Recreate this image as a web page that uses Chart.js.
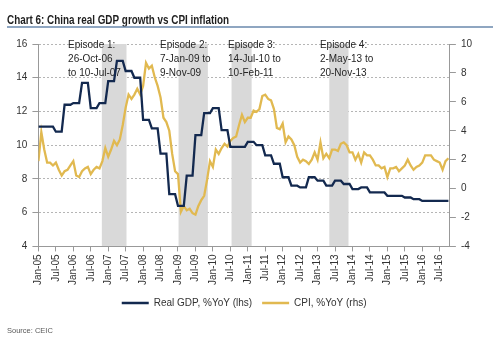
<!DOCTYPE html>
<html>
<head>
<meta charset="utf-8">
<script src="https://cdn.jsdelivr.net/npm/chart.js@4.4.0/dist/chart.umd.min.js"></script>
<style>
html, body { margin: 0; padding: 0; background: #fff; }
#wrap { width: 500px; height: 353px; position: relative; }
</style>
</head>
<body>
<div id="wrap"><canvas id="myChart"></canvas></div>
<script>
// one value per month, Jan-05 .. Oct-16
let gdp = [
  11.1, 11.1, 11.1, 11.1, 11.1, 11.1, 10.8, 10.8, 10.8, 12.4, 12.4, 12.4,
  12.5, 12.5, 12.5, 13.7, 13.7, 13.7, 12.2, 12.2, 12.2, 12.5, 12.5, 12.5,
  13.8, 13.8, 13.8, 15.0, 15.0, 15.0, 14.4, 14.4, 14.4, 14.0, 14.0, 14.0,
  11.5, 11.5, 11.5, 11.0, 11.0, 11.0, 9.5, 9.5, 9.5, 7.1, 7.1, 7.1,
  6.4, 6.4, 6.4, 8.2, 8.2, 8.2, 10.6, 10.6, 10.6, 11.9, 11.9, 11.9,
  12.2, 12.2, 12.2, 10.9, 10.9, 10.9, 9.9, 9.9, 9.9, 9.9, 9.9, 9.9,
  10.2, 10.2, 10.2, 10.0, 10.0, 10.0, 9.4, 9.4, 9.4, 8.9, 8.9, 8.9,
  8.1, 8.1, 8.1, 7.6, 7.6, 7.6, 7.5, 7.5, 7.5, 8.1, 8.1, 8.1,
  7.9, 7.9, 7.9, 7.6, 7.6, 7.6, 7.9, 7.9, 7.9, 7.7, 7.7, 7.7,
  7.4, 7.4, 7.4, 7.5, 7.5, 7.5, 7.2, 7.2, 7.2, 7.2, 7.2, 7.2,
  7.0, 7.0, 7.0, 7.0, 7.0, 7.0, 6.9, 6.9, 6.9, 6.8, 6.8, 6.8,
  6.7, 6.7, 6.7, 6.7, 6.7, 6.7, 6.7, 6.7, 6.7, 6.7
];
let cpi = [
  1.9, 3.9, 2.7, 1.8, 1.8, 1.6, 1.8, 1.3, 0.9, 1.2, 1.3, 1.6,
  1.9, 0.9, 0.8, 1.2, 1.4, 1.5, 1.0, 1.3, 1.5, 1.4, 1.9, 2.8,
  2.2, 2.7, 3.3, 3.0, 3.4, 4.4, 5.6, 6.5, 6.2, 6.5, 6.9, 6.5,
  7.1, 8.7, 8.3, 8.5, 7.7, 7.1, 6.3, 4.9, 4.6, 4.0, 2.4, 1.2,
  1.0, -1.6, -1.2, -1.5, -1.4, -1.7, -1.8, -1.2, -0.8, -0.5, 0.6, 1.9,
  1.5, 2.7, 2.4, 2.8, 3.1, 2.9, 3.3, 3.5, 3.6, 4.4, 5.1, 4.6,
  4.9, 4.9, 5.4, 5.3, 5.5, 6.4, 6.5, 6.2, 6.1, 5.5, 4.2, 4.1,
  4.5, 3.2, 3.6, 3.4, 3.0, 2.2, 1.8, 2.0, 1.9, 1.7, 2.0, 2.5,
  2.0, 3.2, 2.1, 2.4, 2.1, 2.7, 2.7, 2.6, 3.1, 3.2, 3.0, 2.5,
  2.5, 2.0, 2.4, 1.8, 2.5, 2.3, 2.3, 2.0, 1.6, 1.6, 1.4, 1.5,
  0.8, 1.4, 1.4, 1.5, 1.2, 1.4, 1.6, 2.0, 1.6, 1.3, 1.5, 1.6,
  1.8, 2.3, 2.3, 2.3, 2.0, 1.9, 1.8, 1.3, 1.9, 2.1
];
let tickLabels = [
  'Jan-05', 'Jul-05', 'Jan-06', 'Jul-06', 'Jan-07', 'Jul-07', 'Jan-08', 'Jul-08',
  'Jan-09', 'Jul-09', 'Jan-10', 'Jul-10', 'Jan-11', 'Jul-11', 'Jan-12', 'Jul-12',
  'Jan-13', 'Jul-13', 'Jan-14', 'Jul-14', 'Jan-15', 'Jul-15', 'Jan-16', 'Jul-16'
];
let episodeFrom = ['26-Oct-06', '7-Jan-09', '14-Jul-10', '2-May-13'];
let episodeTo = ['10-Jul-07', '9-Nov-09', '10-Feb-11', '20-Nov-13'];
let episodeText = [
  ['Episode 1:', '26-Oct-06', 'to 10-Jul-07'],
  ['Episode 2:', '7-Jan-09 to', '9-Nov-09'],
  ['Episode 3:', '14-Jul-10 to', '10-Feb-11'],
  ['Episode 4:', '2-May-13 to', '20-Nov-13']
];

let monthNames = ['Jan','Feb','Mar','Apr','May','Jun','Jul','Aug','Sep','Oct','Nov','Dec'];

// date like 26-Oct-06 -> months since Jan-05
function monthIndex(s) {
  let p = s.split('-');
  let yr = 2000 + Number(p[2]);
  let mon = monthNames.indexOf(p[1]);
  let days = new Date(yr, mon + 1, 0).getDate();
  return (yr - 2005) * 12 + mon + (Number(p[0]) - 1) / days;
}

let font = '"Liberation Sans", Arial, sans-serif';

const decor = {
  id: 'decor',
  beforeDatasetsDraw(chart) {
    const { ctx, chartArea, scales } = chart;
    ctx.save();
    // shaded episodes
    ctx.fillStyle = '#d9d9d9';
    episodeFrom.forEach((d, i) => {
      let x1 = scales.x.getPixelForValue(monthIndex(d));
      let x2 = scales.x.getPixelForValue(monthIndex(episodeTo[i]));
      ctx.fillRect(x1, chartArea.top, x2 - x1, chartArea.bottom - chartArea.top - 0.5);
    });
    // episode notes
    let textAt = [10.2, 41.8, 65.2, 96.8];
    ctx.fillStyle = '#262626';
    ctx.font = '10px ' + font;
    ctx.textBaseline = 'middle';
    ctx.textAlign = 'left';
    episodeText.forEach((lines, i) => {
      let x = scales.x.getPixelForValue(textAt[i]);
      lines.forEach((t, j) => ctx.fillText(t, x, chartArea.top + 1 + j * 14));
    });
    ctx.restore();
  },
  afterDraw(chart) {
    const { ctx } = chart;
    ctx.save();
    ctx.fillStyle = '#1f1f1f';
    ctx.font = 'bold 13px "Liberation Sans Narrow", ' + font;
    ctx.textBaseline = 'middle';
    ctx.fillText('Chart 6: China real GDP growth vs CPI inflation', 7, 20, 222);
    ctx.strokeStyle = '#6a88ad';
    ctx.lineWidth = 1.5;
    ctx.beginPath();
    ctx.moveTo(7, 27);
    ctx.lineTo(493, 27);
    ctx.stroke();
    ctx.fillStyle = '#595959';
    ctx.font = '7.5px ' + font;
    ctx.fillText('Source: CEIC', 7, 331);
    ctx.restore();
  }
};

let ctx = document.getElementById('myChart').getContext('2d');
let chart = new Chart(ctx, {
  type: 'line',
  data: {
    datasets: [{
      label: 'Real GDP, %YoY (lhs)',
      data: gdp.map((v, i) => ({ x: i, y: v })),
      borderColor: '#13294f',
      backgroundColor: '#13294f',
      borderWidth: 2.3,
      pointRadius: 0,
      tension: 0,
      yAxisID: 'y'
    }, {
      label: 'CPI, %YoY (rhs)',
      data: cpi.map((v, i) => ({ x: i, y: v })),
      borderColor: '#e1b950',
      backgroundColor: '#e1b950',
      borderWidth: 2.3,
      pointRadius: 0,
      tension: 0,
      yAxisID: 'y1'
    }]
  },
  options: {
    responsive: true,
    maintainAspectRatio: false,
    animation: false,
    layout: { padding: { left: 11.3, right: 23, top: 44, bottom: 35 } },
    plugins: {
      legend: {
        position: 'bottom',
        labels: {
          usePointStyle: true,
          pointStyle: 'line',
          pointStyleWidth: 27,
          padding: 10,
          color: '#333',
          font: { size: 10, family: font }
        }
      },
      tooltip: { enabled: false }
    },
    scales: {
      x: {
        type: 'linear',
        min: 0,
        max: 141.5,
        grid: { drawOnChartArea: false, tickLength: 5, color: '#999' },
        border: { color: '#999' },
        ticks: {
          stepSize: 6,
          includeBounds: false,
          autoSkip: false,
          maxRotation: 90,
          minRotation: 90,
          padding: 3,
          color: '#333',
          font: { size: 10, family: font },
          callback: v => tickLabels[v / 6]
        }
      },
      y: {
        position: 'left',
        min: 4,
        max: 16,
        grid: { color: '#b5b5b5', tickLength: 6, tickColor: '#999' },
        border: { color: '#999', dash: [2, 2] },
        ticks: { stepSize: 2, padding: 5, color: '#333', font: { size: 10, family: font } }
      },
      y1: {
        position: 'right',
        min: -4,
        max: 10,
        grid: { drawOnChartArea: false, tickLength: 6, color: '#999' },
        border: { color: '#999' },
        ticks: { stepSize: 2, padding: 5, color: '#333', font: { size: 10, family: font } }
      }
    }
  },
  plugins: [decor]
});
</script>
</body>
</html>
